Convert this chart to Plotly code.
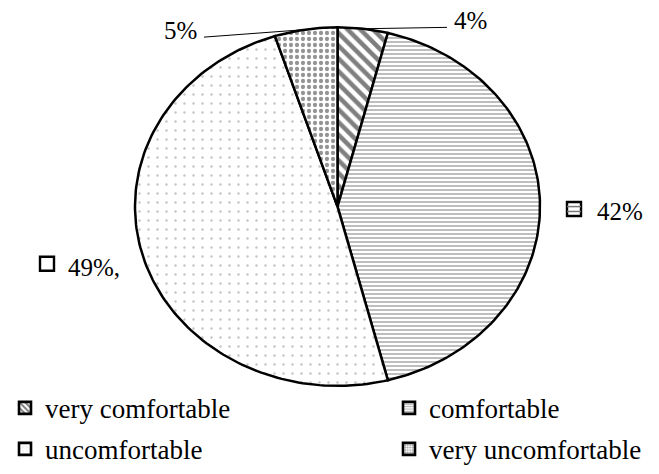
import numpy as np
import plotly.graph_objects as go

# Survey answers, clockwise from 12 o'clock
categories = ["very comfortable", "comfortable", "uncomfortable", "very uncomfortable"]
shares = [4, 42, 49, 5]
label_texts = ["4%", "42%", "49%,", "5%"]

W, H = 659, 474
CX, CY = 337.5, 211.5     # pie centre (pixels)
RX, RY = 202.5, 183.5     # pie radii (pixels)
FONT = "Liberation Serif"

patterns = [
    dict(shape="\\", fgcolor="black", bgcolor="white", size=9, solidity=0.5),
    dict(shape="-", fgcolor="#6e6e6e", bgcolor="white", size=4, solidity=0.45),
    dict(shape=".", fgcolor="#8a8a8a", bgcolor="white", size=9, solidity=0.06),
    dict(shape=".", fgcolor="#2a2a2a", bgcolor="white", size=6, solidity=0.4),
]


def edge_point(frac):
    """Point on the ellipse at a fraction of the full turn (clockwise from top)."""
    t = 2 * np.pi * frac
    return CX + RX * np.sin(t), CY - RY * np.cos(t)


fig = go.Figure()

total = float(sum(shares))
cum = np.concatenate([[0.0], np.cumsum(shares) / total])

for i, name in enumerate(categories):
    a0, a1 = cum[i], cum[i + 1]
    ts = np.linspace(a0, a1, max(8, int(300 * (a1 - a0))))
    ex, ey = edge_point(ts)
    xs = np.concatenate([[CX], ex, [CX]])
    ys = np.concatenate([[CY], ey, [CY]])
    fig.add_trace(go.Scatter(
        x=xs, y=ys, mode="lines", fill="toself",
        fillcolor="white", fillpattern=patterns[i],
        line=dict(color="black", width=2.5),
        showlegend=False, hoverinfo="skip",
    ))

# Leader lines for the two thin slices
leader_ends = {0: (447, 28), 3: (204, 38)}
for i, (lx, ly) in leader_ends.items():
    mx, my = edge_point((cum[i] + cum[i + 1]) / 2)
    fig.add_trace(go.Scatter(
        x=[mx, lx], y=[my, ly], mode="lines",
        line=dict(color="black", width=1), showlegend=False, hoverinfo="skip",
    ))

# Data labels
label_font = dict(family=FONT, size=25, color="black")
fig.add_annotation(x=452, y=21, text=label_texts[0], showarrow=False,
                   xanchor="left", yanchor="middle", font=label_font)
fig.add_annotation(x=199, y=31, text=label_texts[3], showarrow=False,
                   xanchor="right", yanchor="middle", font=label_font)
fig.add_annotation(x=595, y=217, text=label_texts[1], showarrow=False,
                   xanchor="left", yanchor="middle", font=label_font)
fig.add_annotation(x=66, y=274, text=label_texts[2], showarrow=False,
                   xanchor="left", yanchor="middle", font=label_font)

# Small legend keys beside the 42% and 49% labels
fig.add_trace(go.Scatter(
    x=[574, 47], y=[214, 270], mode="markers",
    marker=dict(symbol="square", size=14, color="white",
                line=dict(color="black", width=2.4)),
    showlegend=False, hoverinfo="skip",
))
fig.add_trace(go.Scatter(
    x=[574, 574], y=[211.5, 216.5], mode="markers",
    marker=dict(symbol="line-ew", size=10, line=dict(color="#777", width=1.5)),
    showlegend=False, hoverinfo="skip",
))

# Legend entries, one legend box per entry (two rows of two)
legend_ids = ["legend", "legend2", "legend3", "legend4"]
legend_pos = [(5, 418), (389, 418), (5, 460), (389, 460)]
for i, name in enumerate(categories):
    pat = dict(patterns[i])
    pat.pop("bgcolor")
    pat["size"] = max(3, pat["size"] - 4)
    fig.add_trace(go.Bar(
        x=[None], y=[None], name=name, legend=legend_ids[i],
        marker=dict(color="white", pattern=pat,
                    line=dict(color="black", width=2.6)),
    ))

legend_layout = {}
for lid, (lx, ly) in zip(legend_ids, legend_pos):
    legend_layout[lid] = dict(
        x=lx / W, y=1 - ly / H, xanchor="left", yanchor="middle",
        bgcolor="rgba(0,0,0,0)",
        font=dict(family=FONT, size=27, color="black"),
        itemclick=False, itemdoubleclick=False,
    )

fig.update_layout(
    width=W, height=H,
    margin=dict(l=0, r=0, t=0, b=0),
    paper_bgcolor="white", plot_bgcolor="white",
    font=dict(family=FONT, size=25, color="black"),
    xaxis=dict(range=[0, W], visible=False, fixedrange=True),
    yaxis=dict(range=[H, 0], visible=False, fixedrange=True),
    showlegend=True,
    **legend_layout,
)

fig.write_html("out.html")
